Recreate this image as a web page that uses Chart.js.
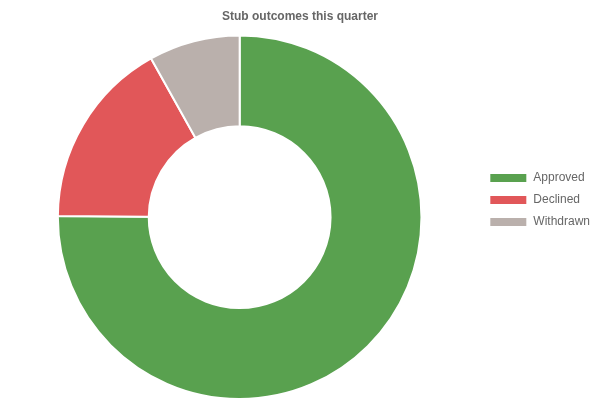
<!DOCTYPE html>
<html>
<head>
<meta charset="utf-8">
<script src="https://cdn.jsdelivr.net/npm/chart.js@4/dist/chart.umd.min.js"></script>
<style>
  html, body { margin: 0; padding: 0; background: #fff; }
  .container { width: 600px; height: 400px; }
</style>
</head>
<body>
<div class="container"><canvas id="myChart"></canvas></div>
<script>
const labels = ['Approved', 'Declined', 'Withdrawn']
const values = [75.1, 16.8, 8.1]
const colors = ['#59a14f', '#e15759', '#bab0ac']

Chart.defaults.font.family = '"Liberation Sans", Arial, Helvetica, sans-serif'
Chart.defaults.color = '#666'

new Chart(document.getElementById('myChart').getContext('2d'), {
	type: 'doughnut',
	data: {
		labels: labels,
		datasets: [{
			data: values,
			backgroundColor: colors,
			hoverBackgroundColor: colors,
			borderColor: '#fff',
			borderWidth: 2
		}]
	},
	options: {
		responsive: true,
		maintainAspectRatio: false,
		animation: false,
		cutout: '50%',
		layout: { padding: { top: 0, bottom: 0 } },
		plugins: {
			title: {
				display: true,
				text: 'Stub outcomes this quarter',
				font: { size: 12, weight: 'bold' },
				padding: { top: 9, bottom: 11 }
			},
			legend: {
				position: 'right',
				labels: {
					boxWidth: 38,
					boxHeight: 10,
					font: { size: 12 },
					padding: 10
				}
			},
			tooltip: { enabled: false }
		}
	}
})
</script>
</body>
</html>
